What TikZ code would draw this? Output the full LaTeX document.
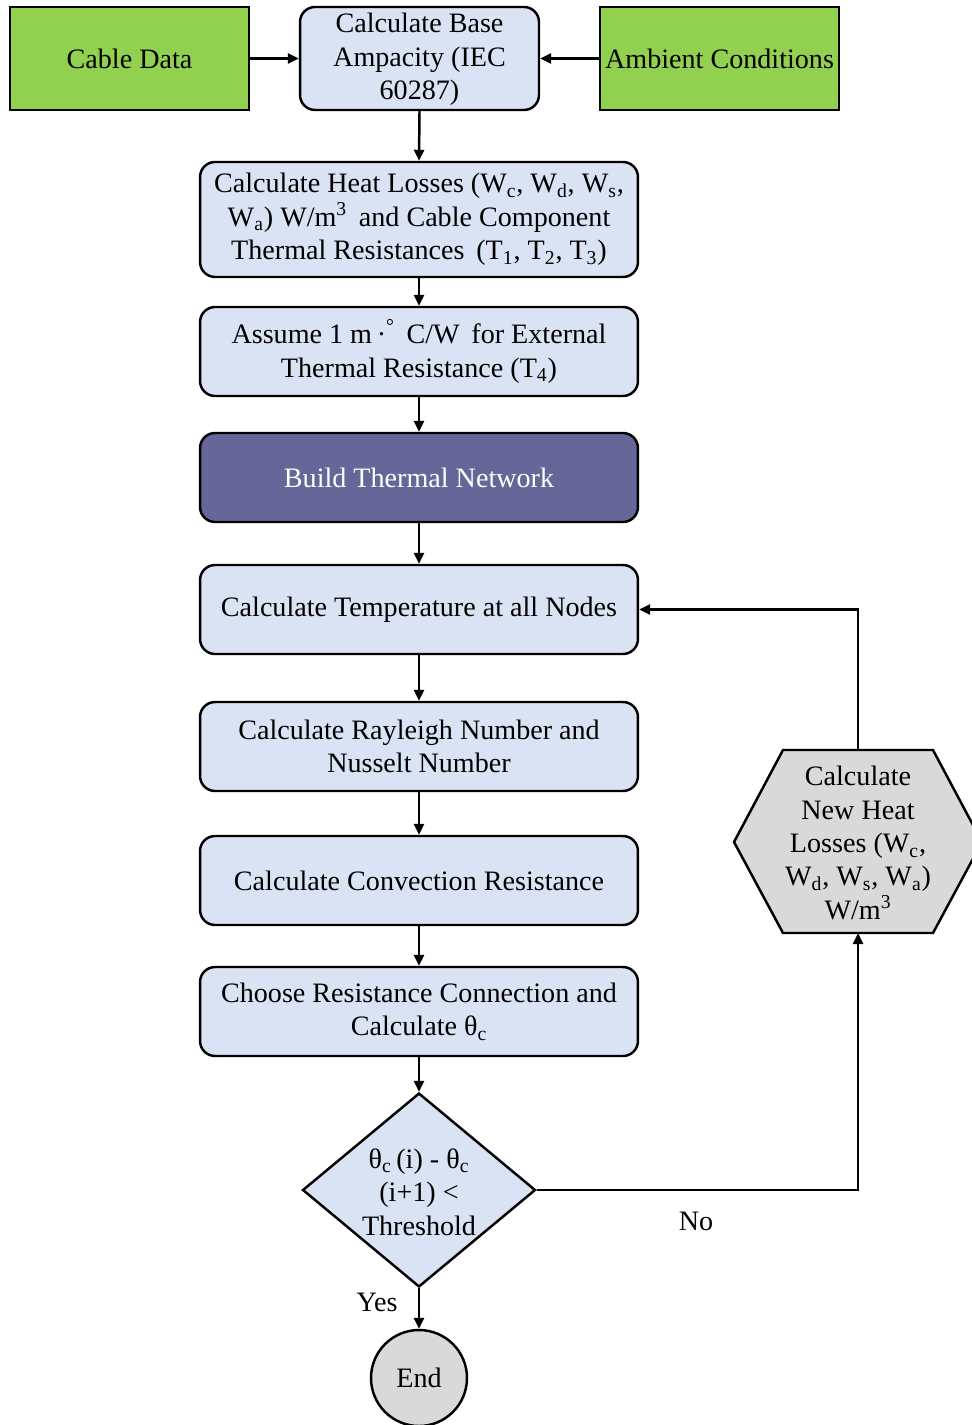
\documentclass[tikz,border=0pt]{standalone}
\usepackage{fontspec}
\setmainfont{Liberation Serif}
\usetikzlibrary{shapes.geometric,arrows.meta}
\definecolor{boxblue}{HTML}{DAE3F3}
\definecolor{boxgreen}{HTML}{92D050}
\definecolor{boxgray}{HTML}{D9D9D9}
\definecolor{boxpurple}{HTML}{666699}
\newcommand{\sbs}[1]{\textsubscript{#1}}
\newcommand{\sps}[1]{\textsuperscript{#1}}
\begin{document}
\begin{tikzpicture}[x=0.02cm,y=-0.02cm,
  every node/.style={font=\fontsize{16}{19}\selectfont},
  proc/.style={draw=black,line width=1.4pt,fill=boxblue,rounded corners=0.3cm,
    minimum width=8.76cm,minimum height=1.78cm,align=center,inner sep=0pt},
  greenbox/.style={draw=black,line width=1.4pt,fill=boxgreen,
    minimum width=4.78cm,minimum height=2.06cm,inner sep=0pt},
  topbase/.style={draw=black,line width=1.4pt,fill=boxblue,rounded corners=0.3cm,
    minimum width=4.78cm,minimum height=2.06cm,inner sep=0pt},
  plaintext/.style={align=center,inner sep=0pt},
  arr/.style={line width=1.4pt,-{Triangle[length=0.22cm,width=0.2cm]}},
  ln/.style={line width=1.4pt}
]
\useasboundingbox (0,0) rectangle (971,1425);

% top row
\node[greenbox] (cable) at (129.5,58.5) {Cable Data};
\node[topbase] (base) at (419.5,58.5) {};
\node[plaintext] (baset) at (419.5,59.5) {Calculate Base\\Ampacity (IEC\\60287)};
\node[greenbox] (amb) at (719.5,58.5) {Ambient Conditions};

% main column
\node[proc,minimum height=2.3cm] (heat) at (419,219.5)
  {Calculate Heat Losses (W\sbs{c}, W\sbs{d}, W\sbs{s},\\
   W\sbs{a}) W/m\sps{3}\, and Cable Component\\
   Thermal Resistances\, (T\sbs{1}, T\sbs{2}, T\sbs{3})};
\node[proc] (assume) at (419,351.5)
  {Assume 1 m\,·\sps{°}\, C/W\, for External\\Thermal Resistance (T\sbs{4})};
\node[proc,fill=boxpurple,text=white] (build) at (419,477.5) {Build Thermal Network};
\node[proc] (temp) at (419,609.5) {Calculate Temperature at all Nodes};
\node[proc] (ray) at (419,746.5) {Calculate Rayleigh Number and\\Nusselt Number};
\node[proc] (conv) at (419,880.5) {Calculate Convection Resistance};
\node[proc] (choose) at (419,1011.5) {Choose Resistance Connection and\\Calculate θ\sbs{c}};

% decision
\node[diamond,draw=black,line width=1.4pt,fill=boxblue,minimum width=4.66cm,
  minimum height=3.88cm,inner sep=0pt] (dec) at (419,1190) {};
\node[plaintext] (dect) at (419,1192)
  {θ\sbs{c}\,(i) - θ\sbs{c}\\(i+1) <\\Threshold};

% end
\node[circle,draw=black,line width=1.4pt,fill=boxgray,minimum size=1.92cm,inner sep=0pt]
  (end) at (419,1378) {End};

% hexagon
\draw[ln,fill=boxgray] (734,842) -- (783,750) -- (933,750) -- (982,842)
  -- (933,933) -- (783,933) -- cycle;
\coordinate (hext) at (858,750);
\coordinate (hexb) at (858,933);
\node[plaintext] (hex) at (858,843)
  {Calculate\\New Heat\\Losses (W\sbs{c},\\W\sbs{d}, W\sbs{s}, W\sbs{a})\\W/m\sps{3}};

% connectors
\draw[arr] (cable.east) -- (base.west);
\draw[arr] (amb.west) -- (base.east);
\draw[arr] (base.south) -- (heat.north);
\draw[arr] (heat.south) -- (assume.north);
\draw[arr] (assume.south) -- (build.north);
\draw[arr] (build.south) -- (temp.north);
\draw[arr] (temp.south) -- (ray.north);
\draw[arr] (ray.south) -- (conv.north);
\draw[arr] (conv.south) -- (choose.north);
\draw[arr] (choose.south) -- (dec.north);
\draw[arr] (dec.south) -- (end.north);
\draw[arr] (dec.east) -| (hexb);
\draw[arr] (hext) |- (temp.east);

% labels
\node (yes) at (377,1302) {Yes};
\node (no) at (696,1221) {No};
\end{tikzpicture}
\end{document}
